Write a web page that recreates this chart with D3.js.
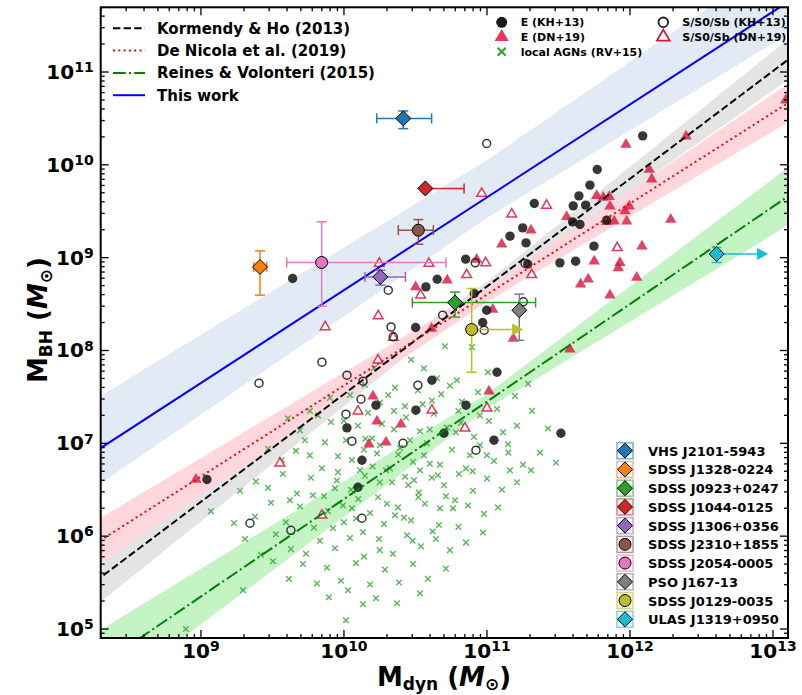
<!DOCTYPE html>
<html>
<head>
<meta charset="utf-8">
<script src="https://cdn.jsdelivr.net/npm/d3@7"></script>
<style>
body{margin:0;background:#fff;}
text{font-family:"DejaVu Sans",sans-serif;font-weight:bold;}
</style>
</head>
<body>
<svg id="chart" width="802" height="695"></svg>
<script>
// all values are log10(M / Msun): [log Mdyn, log MBH]

// Kormendy & Ho 2013, ellipticals
var khE = [[9.042,6.61],[9.641,8.776],[10.573,8.685],[10.652,8.768],[10.851,8.984],[10.501,8.248],[10.970,8.302],
  [10.998,8.434],[11.161,9.232],[11.25,9.321],[11.273,9.159],[11.331,9.584],[11.285,8.93],[10.911,8.614],
  [12.089,10.312],[11.771,9.95],[11.72,9.781],[11.643,9.666],[11.603,9.558],[11.69,9.566],[11.599,9.386],
  [11.65,9.358],[11.837,9.404],[11.748,9.124],[11.62,8.962],[11.51,8.944],[11.517,7.109],[10.021,7.166],
  [10.098,6.527],[10.126,6.818],[10.224,7.411],[10.503,7.357],[10.699,7.109],[10.853,7.411],[11.049,7.034],
  [11.07,7.766],[10.615,7.68]];
// Kormendy & Ho 2013, S/S0/Sb
var khS = [[10.998,10.23],[10.918,8.944],[11.266,8.938],[10.31,8.65],[11.254,8.524],[10.69,8.38],[10.981,8.219],
  [10.329,8.254],[10.345,8.147],[9.406,7.648],[9.846,7.874],[10.021,7.734],[10.133,7.669],[10.119,7.475],
  [9.343,6.139],[9.629,6.063],[10.126,6.193],[10.014,7.314],[10.056,7.023],[10.413,7.001],[10.517,7.626],
  [10.923,6.926]];
// De Nicola et al. 2019, ellipticals
var dnE = [[11.972,10.22],[12.392,10.309],[12.135,9.95],[12.152,9.846],[11.767,9.666],[11.813,9.649],[11.855,9.655],
  [11.86,9.555],[11.995,9.555],[11.965,9.504],[11.557,9.44],[11.837,9.386],[11.89,9.393],[11.977,9.393],
  [12.285,9.412],[12.084,9.124],[11.75,8.962],[11.93,8.944],[11.918,8.89],[11.708,8.768],[11.655,8.714],
  [12.047,8.787],[11.86,8.596],[11.308,9.296],[11.103,9.145],[10.722,8.758],[10.501,8.685],[11.04,8.442],
  [10.928,8.981],[10.613,8.237],[11.184,8.129],[8.965,6.61],[10.175,6.99],[10.231,7.238],[10.294,7.012],
  [10.399,7.206],[11.014,7.561],[11.58,8.014],[10.203,7.508],[13.09,10.697]];
// De Nicola et al. 2019, S/S0/Sb
var dnS = [[11.911,9.106],[10.963,9.692],[11.173,9.469],[11.417,9.563],[10.247,8.938],[10.594,8.938],[10.991,8.944],
  [10.858,8.815],[11.313,8.815],[10.536,8.596],[10.24,8.373],[9.869,8.254],[10.345,8.14],[9.552,6.786],[9.846,6.225],
  [10.238,7.895],[10.098,7.346],[10.615,7.357],[11.0,7.378],[10.846,7.163]];
// Reines & Volonteri 2015 local AGNs
var rvAGN = [
  [10.706,8.046],[10.895,8.036],[10.65,7.701],[10.559,7.809],[10.21,7.81],[11.007,7.766],[10.79,7.68],[10.47,7.90],
  [9.902,7.49],[10.042,7.52],[10.147,7.63],[10.252,7.44],[10.357,7.60],[10.427,7.40],[10.517,7.57],[10.615,7.46],
  [10.741,7.62],[10.825,7.45],[10.937,7.55],[11.07,7.37],[11.196,7.51],[11.287,7.64],[9.762,7.35],[10.31,7.52],[10.68,7.53],
  [9.692,7.14],[9.818,7.30],[9.909,7.23],[10.0,7.24],[10.098,7.19],[10.168,7.33],[10.266,7.21],[10.35,7.15],
  [10.434,7.28],[10.531,7.13],[10.629,7.32],[10.72,7.17],[10.818,7.22],[10.909,7.07],[11.014,7.24],[11.112,7.12],
  [11.21,7.19],[11.315,7.35],[11.427,7.16],[9.608,7.27],
  [9.566,6.82],[9.664,6.92],[9.762,6.87],[9.867,7.01],[9.958,6.86],[10.056,6.82],[10.14,6.93],[10.231,6.89],
  [10.322,6.73],[10.392,6.95],[10.483,6.80],[10.581,7.0],[10.671,6.77],[10.755,6.93],[10.853,6.73],[10.951,6.98],
  [11.049,6.81],[11.147,6.99],[11.252,6.77],[11.371,6.90],[11.483,6.79],[9.469,6.94],
  [9.273,6.49],[9.385,6.59],[9.469,6.52],[9.573,6.67],[9.671,6.46],[9.769,6.63],[9.86,6.43],[9.958,6.69],
  [10.049,6.50],[10.147,6.65],[10.238,6.42],[10.336,6.58],[10.427,6.64],[10.524,6.47],[10.615,6.63],[10.713,6.43],
  [10.804,6.67],[10.902,6.49],[11.0,6.62],[11.105,6.50],[11.21,6.58],[11.308,6.71],
  [9.07,6.268],[9.231,6.14],[9.378,6.21],[9.49,6.36],[9.594,6.15],[9.692,6.32],[9.79,6.09],[9.888,6.27],
  [9.993,6.33],[10.084,6.19],[10.182,6.25],[10.28,6.13],[10.378,6.31],[10.469,6.17],[10.566,6.35],[10.664,6.12],
  [10.762,6.30],[10.867,6.33],[10.979,6.24],[11.077,6.31],
  [9.308,5.97],[9.42,5.80],[9.524,6.02],[9.629,5.86],[9.734,5.81],[9.832,5.95],[9.937,5.87],[10.042,5.98],
  [10.14,5.78],[10.245,5.97],[10.343,5.81],[10.441,6.01],[10.538,5.89],[10.643,5.97],[10.741,5.85],[10.853,5.93],
  [10.972,6.04],
  [9.503,5.73],[9.615,5.54],[9.713,5.70],[9.811,5.49],[9.881,5.66],[9.979,5.52],[10.084,5.71],[10.182,5.48],
  [10.287,5.64],[10.385,5.50],[10.483,5.70],[10.587,5.54],[10.713,5.65],[9.294,5.417],
  [9.895,5.342],[10.028,5.417],[10.133,5.266],[10.224,5.331],[10.371,5.277],[10.531,5.385],[10.014,5.094],[8.895,5.0],
  [9.727,7.034],[9.846,6.732],[10.014,7.034],[10.112,6.71],[10.196,7.055],[10.294,6.71],[10.462,7.034],[10.559,6.872],
  [10.657,6.657],[10.783,7.12],[10.881,6.872],[10.776,6.387],[10.671,6.301],[10.357,6.225],[10.133,6.042],
  [9.923,6.085],[9.783,6.441],[9.622,6.387],[9.937,6.516],[10.056,6.301],[10.531,6.71],[11.0,6.872],[11.161,6.71],
  [10.252,6.98],[10.49,6.603],
  [10.2,6.75],[10.38,6.88],[10.45,6.55],[10.6,6.78],[10.3,6.35],[10.52,6.42],[10.7,6.55],[10.1,6.4],[10.25,6.58],
  [10.42,6.2],[10.62,6.05],[10.35,7.35],[10.55,7.42],[10.8,7.35],[10.95,7.3],[10.15,7.05],[9.95,6.6],[10.0,6.15],
  [10.25,5.85],[10.48,5.95],[10.8,6.1],[10.9,6.7],[11.15,6.9],[10.6,7.15]];

// high-z quasars
var qName = ["VHS J2101-5943","SDSS J1328-0224","SDSS J0923+0247","SDSS J1044-0125","SDSS J1306+0356",
  "SDSS J2310+1855","SDSS J2054-0005","PSO J167-13","SDSS J0129-0035","ULAS J1319+0950"];
var qColor = ["#1f77b4","#ff7f0e","#2ca02c","#d62728","#9467bd","#8c564b","#e377c2","#7f7f7f","#bcbd22","#17becf"];
var qShape = ["D","D","D","D","D","o","o","D","o","D"];
var qX   = [10.415, 9.413, 10.776, 10.569, 10.254, 10.52, 9.844, 11.226, 10.893, 12.606];
var qY   = [10.50, 8.90, 8.517, 9.746, 8.793, 9.296, 8.948, 8.434, 8.226, 9.04];
var qXlo = [10.229, 9.37, 10.478, 10.56, 10.147, 10.38, 9.60, 11.226, 10.893, 12.606];
var qXhi = [10.613, 9.46, 11.34, 10.84, 10.43, 10.625, 10.713, 11.226, 10.893, 12.606];
var qYlo = [10.39, 8.596, 8.36, 9.746, 8.704, 9.145, 8.477, 8.11, 7.766, 8.948];
var qYhi = [10.58, 9.073, 8.63, 9.746, 8.865, 9.41, 9.386, 8.607, 8.668, 9.11];
var qLowerLimit = [0,0,0,0,0,0,0,0,1,1];

// relations: log MBH = norm + slope*(log Mdyn - 11)
var fitName  = ["Kormendy & Ho (2013)","De Nicola et al. (2019)","Reines & Volonteri (2015)","This work"];
var fitNorm  = [8.69, 8.603, 7.45, 9.65];
var fitSlope = [1.16, 0.98, 1.05, 1.0];
var fitErrHi = [0.05, 0.08, 0.08, 0.40];
var fitErrLo = [0.05, 0.08, 0.08, 0.22];
var fitSlopeErr = [0.08, 0.06, 0.11, 0.06];
var fitColor = ["#000000","#ff0000","#008000","#0000ff"];
var fitDash  = ["7.4,3.2","2,3.3","12.8,3.2,2,3.2",null];
var bandColor = ["#e4e4e4","#ffd7dd","#c4f4c4","#e2eaf5"];

var xMajor = [9,10,11,12,13];
var yMajor = [5,6,7,8,9,10,11];

var svg = d3.select("#chart");
var L=100.7, R=788, T=7.3, B=638;
function p(v){return Math.pow(10,v);}
var x = d3.scaleLog().domain([p(8.299), p(13.105)]).range([L,R]);
var y = d3.scaleLog().domain([p(4.903), p(11.697)]).range([B,T]);

svg.append("clipPath").attr("id","clip").append("rect")
  .attr("x",L).attr("y",T).attr("width",R-L).attr("height",B-T);
var plot = svg.append("g").attr("clip-path","url(#clip)");

// bands (envelope of normalisation and slope uncertainties)
var lxs = d3.range(8.2, 13.25, 0.05);
fitName.forEach(function(n,i){
  function edge(lx, sgn){
    var d = lx-11, s = fitSlopeErr[i]*Math.abs(d);
    return sgn>0 ? fitNorm[i]+fitSlope[i]*d+fitErrHi[i]+s : fitNorm[i]+fitSlope[i]*d-fitErrLo[i]-s;
  }
  plot.append("path")
    .attr("d", d3.area().x(function(d){return x(p(d));})
      .y0(function(d){return y(p(edge(d,-1)));})
      .y1(function(d){return y(p(edge(d,1)));})(lxs))
    .attr("fill", bandColor[i]).attr("stroke","none");
});

// local AGNs
plot.append("g").selectAll("path").data(rvAGN).enter().append("path")
  .attr("d","M-2.8,-2.8L2.8,2.8M-2.8,2.8L2.8,-2.8")
  .attr("transform",function(d){return "translate("+x(p(d[0]))+","+y(p(d[1]))+")";})
  .attr("stroke","#2ca02c").attr("stroke-opacity",0.78).attr("stroke-width",1.4).attr("fill","none");

var tri = d3.symbol().type(d3.symbolTriangle).size(55);
plot.append("g").selectAll("path").data(dnE).enter().append("path")
  .attr("d",tri)
  .attr("transform",function(d){return "translate("+x(p(d[0]))+","+y(p(d[1]))+")";})
  .attr("fill","#dc143c").attr("fill-opacity",0.8);
plot.append("g").selectAll("path").data(dnS).enter().append("path")
  .attr("d",d3.symbol().type(d3.symbolTriangle).size(40))
  .attr("transform",function(d){return "translate("+x(p(d[0]))+","+y(p(d[1]))+")";})
  .attr("fill","#fff").attr("stroke","#dc143c").attr("stroke-opacity",0.85).attr("stroke-width",1.5);
plot.append("g").selectAll("circle").data(khE).enter().append("circle")
  .attr("cx",function(d){return x(p(d[0]));}).attr("cy",function(d){return y(p(d[1]));})
  .attr("r",4.7).attr("fill","#1a1a1a").attr("fill-opacity",0.88);
plot.append("g").selectAll("circle").data(khS).enter().append("circle")
  .attr("cx",function(d){return x(p(d[0]));}).attr("cy",function(d){return y(p(d[1]));})
  .attr("r",4).attr("fill","none").attr("stroke","#1a1a1a").attr("stroke-opacity",0.88).attr("stroke-width",1.5);

// relation lines
fitName.forEach(function(n,i){
  var ln = d3.line().x(function(d){return x(p(d));})
    .y(function(d){return y(p(fitNorm[i]+fitSlope[i]*(d-11)));});
  plot.append("path").attr("d",ln([8.2,13.2])).attr("fill","none")
    .attr("stroke",fitColor[i]).attr("stroke-width",2)
    .attr("stroke-dasharray",fitDash[i]);
});

// quasars
var qg = svg.append("g");
function marker(g, shape, col, cx, cy){
  if(shape=="D"){
    g.append("path").attr("d","M0,-7.5L7.5,0L0,7.5L-7.5,0Z")
      .attr("transform","translate("+cx+","+cy+")")
      .attr("fill",col).attr("stroke","#000").attr("stroke-width",1);
  } else {
    g.append("circle").attr("cx",cx).attr("cy",cy).attr("r",6)
      .attr("fill",col).attr("stroke","#000").attr("stroke-width",1);
  }
}
qName.forEach(function(n,i){
  var cx=x(p(qX[i])), cy=y(p(qY[i]));
  var c=qColor[i], g=qg.append("g").attr("stroke",c).attr("stroke-width",1.5);
  if(qXhi[i]>qXlo[i]){
    var x0=x(p(qXlo[i])), x1=x(p(qXhi[i]));
    g.append("line").attr("x1",x0).attr("x2",x1).attr("y1",cy).attr("y2",cy);
    g.append("line").attr("x1",x0).attr("x2",x0).attr("y1",cy-5).attr("y2",cy+5);
    g.append("line").attr("x1",x1).attr("x2",x1).attr("y1",cy-5).attr("y2",cy+5);
  }
  if(qYhi[i]>qYlo[i]){
    var y0=y(p(qYlo[i])), y1=y(p(qYhi[i]));
    g.append("line").attr("x1",cx).attr("x2",cx).attr("y1",y0).attr("y2",y1);
    g.append("line").attr("x1",cx-5).attr("x2",cx+5).attr("y1",y0).attr("y2",y0);
    g.append("line").attr("x1",cx-5).attr("x2",cx+5).attr("y1",y1).attr("y2",y1);
  }
  if(qLowerLimit[i]){
    var xe = x(p(qX[i]+0.36));
    g.append("line").attr("x1",cx).attr("x2",xe-10).attr("y1",cy).attr("y2",cy);
    g.append("path").attr("d","M"+(xe-11)+","+(cy-6)+"L"+xe+","+cy+"L"+(xe-11)+","+(cy+6)+"Z")
      .attr("fill",c).attr("stroke","none");
  }
  marker(qg, qShape[i], c, cx, cy);
});

// axes
var frame = svg.append("g");
var minorX=[], minorY=[];
for(var e=8;e<=13;e++) for(var k=2;k<10;k++){ minorX.push(k*p(e)); }
for(var e2=4;e2<=11;e2++) for(var k2=2;k2<10;k2++){ minorY.push(k2*p(e2)); }
minorX = minorX.filter(function(v){return v>=x.domain()[0]&&v<=x.domain()[1];});
minorY = minorY.filter(function(v){return v>=y.domain()[0]&&v<=y.domain()[1];});
var tk = frame.append("g").attr("stroke","#000").attr("stroke-width",1.3);
xMajor.forEach(function(e){
  var xx=x(p(e));
  tk.append("line").attr("x1",xx).attr("x2",xx).attr("y1",B).attr("y2",B-8);
  tk.append("line").attr("x1",xx).attr("x2",xx).attr("y1",T).attr("y2",T+8);
});
minorX.forEach(function(v){
  var xx=x(v);
  tk.append("line").attr("x1",xx).attr("x2",xx).attr("y1",B).attr("y2",B-4);
  tk.append("line").attr("x1",xx).attr("x2",xx).attr("y1",T).attr("y2",T+4);
});
yMajor.forEach(function(e){
  var yy=y(p(e));
  tk.append("line").attr("y1",yy).attr("y2",yy).attr("x1",L).attr("x2",L+8);
  tk.append("line").attr("y1",yy).attr("y2",yy).attr("x1",R).attr("x2",R-8);
});
minorY.forEach(function(v){
  var yy=y(v);
  tk.append("line").attr("y1",yy).attr("y2",yy).attr("x1",L).attr("x2",L+4);
  tk.append("line").attr("y1",yy).attr("y2",yy).attr("x1",R).attr("x2",R-4);
});
frame.append("rect").attr("x",L).attr("y",T).attr("width",R-L).attr("height",B-T)
  .attr("fill","none").attr("stroke","#000").attr("stroke-width",2);

function powLabel(sel, e){
  sel.append("tspan").text("10");
  sel.append("tspan").attr("dy","-0.48em").attr("font-size","0.7em").text(e);
}
xMajor.forEach(function(e){
  var t=frame.append("text").attr("x",x(p(e))).attr("y",B+20).attr("text-anchor","middle")
    .attr("font-size",20);
  powLabel(t,e);
});
yMajor.forEach(function(e){
  var t=frame.append("text").attr("x",L-7).attr("y",y(p(e))+7).attr("text-anchor","end")
    .attr("font-size",20);
  powLabel(t,e);
});

// axis titles
var xt = svg.append("text").attr("x",444).attr("y",686).attr("text-anchor","middle").attr("font-size",26);
xt.append("tspan").text("M");
xt.append("tspan").attr("font-size",17).attr("dy",4).text("dyn");
xt.append("tspan").attr("dy",-4).text(" (");
xt.append("tspan").attr("font-style","italic").text("M");
xt.append("tspan").attr("font-size",17).attr("dy",4).text("\u2299");
xt.append("tspan").attr("dy",-4).text(")");
var yt = svg.append("text").attr("transform","translate(47,320) rotate(-90)").attr("text-anchor","middle").attr("font-size",26);
yt.append("tspan").text("M");
yt.append("tspan").attr("font-size",17).attr("dy",5).text("BH");
yt.append("tspan").attr("dy",-5).text(" (");
yt.append("tspan").attr("font-style","italic").text("M");
yt.append("tspan").attr("font-size",17).attr("dy",5).text("\u2299");
yt.append("tspan").attr("dy",-5).text(")");

// legend: relations
var lg = svg.append("g");
fitName.forEach(function(n,i){
  var yy = 28.3 + i*22.3;
  lg.append("line").attr("x1",113).attr("x2",145).attr("y1",yy).attr("y2",yy)
    .attr("stroke",fitColor[i]).attr("stroke-width",2).attr("stroke-dasharray",fitDash[i]);
  lg.append("text").attr("x",157).attr("y",yy+5.5).attr("font-size",15).text(n);
});

// legend: samples
var sLab = ["E (KH+13)","E (DN+19)","local AGNs (RV+15)","S/S0/Sb (KH+13)","S/S0/Sb (DN+19)"];
var sX = [501.7,501.7,501.7,663.3,663.3], sY=[22.3,37,51.7,22.3,37];
sLab.forEach(function(n,i){
  var g = lg.append("g").attr("transform","translate("+sX[i]+","+sY[i]+")");
  if(i==0) g.append("circle").attr("r",5.5).attr("fill","#1a1a1a");
  if(i==1) g.append("path").attr("d",d3.symbol().type(d3.symbolTriangle).size(85)).attr("fill","#dc143c").attr("fill-opacity",0.85);
  if(i==2) g.append("path").attr("d","M-4,-4L4,4M-4,4L4,-4").attr("stroke","#2ca02c").attr("stroke-width",2);
  if(i==3) g.append("circle").attr("r",4.8).attr("fill","none").attr("stroke","#1a1a1a").attr("stroke-width",1.8);
  if(i==4) g.append("path").attr("d",d3.symbol().type(d3.symbolTriangle).size(70)).attr("fill","#fff").attr("stroke","#dc143c").attr("stroke-width",1.8);
  lg.append("text").attr("x",sX[i]+19).attr("y",sY[i]+4).attr("font-size",11).text(n);
});

// legend: quasars
qName.forEach(function(n,i){
  var yy = 450.7 + i*18.73, xx = 625;
  lg.append("rect").attr("x",xx-8).attr("y",yy-8).attr("width",16).attr("height",16)
    .attr("fill","none").attr("stroke",qColor[i]).attr("stroke-opacity",0.6).attr("stroke-width",1.5);
  marker(lg, qShape[i], qColor[i], xx, yy);
  lg.append("text").attr("x",648).attr("y",yy+5).attr("font-size",13).text(n);
});
</script>
</body>
</html>
